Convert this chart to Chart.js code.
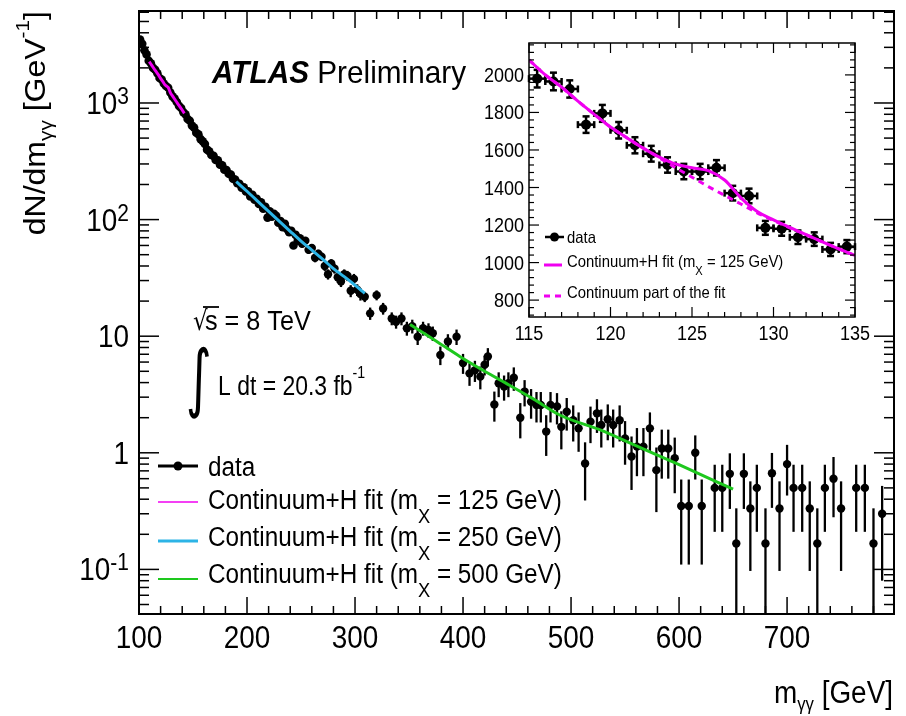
<!DOCTYPE html>
<html>
<head>
<meta charset="utf-8">
<script src="https://cdn.jsdelivr.net/npm/chart.js@4.4.1/dist/chart.umd.min.js"></script>
<style>
  html, body { margin: 0; padding: 0; background: #fff; }
  #wrap { position: relative; width: 906px; height: 716px; }
  canvas { position: absolute; left: 0; top: 0; }
</style>
</head>
<body>
<div id="wrap">
  <canvas id="mainChart" width="906" height="716"></canvas>
  <canvas id="insetChart" width="906" height="716"></canvas>
</div>
<script>
// Fonts and colours
const FONT = '"Liberation Sans", Arial, Helvetica, sans-serif';
const SQUISH = 0.9; // the picture is a little narrower than the fonts
const COLORS = {
    data: '#000000',
    fit125: '#f000f0',
    fit250: '#2cb4e6',
    fit500: '#1ec81e'
};

// Main plot, fine bins (error bars hidden under the markers)
const massDense = [101,103,105,107,109,111,113,115,117,119,121,123,125,127,129,131,133,135,137,139,141,143,145,147,149,151,153,155,157,159,161,163,165,167,169,171,173,175,177,179,181,183,185,187,189,191,193,195,197,199,201,203,205,207,209,211,213,215,217,219,221,223,225,227,229,231,233,235,237,239,241,243,245,247,249];
const valueDense = [3500,3220,2830,2610,2300,2190,2000,1930,1800,1640,1590,1470,1400,1350,1230,1140,1090,1020,945,905,835,800,730,705,640,615,555,540,490,470,445,398,385,358,352,325,322,296,292,268,266,247,243,224,220,205,203,188,189,174,175,158,163,148,151,136,141,124,129,104,118,106,112,108,94,97,86,92,83,78,80,60,74,66,69];

// Main plot, wider bins with visible error bars
const massTail = [251,254,257,260,263,266,269,272,275,278,281,284,287,290,293,296,299,302,305,309,314,320,326,334,338,343,348,353,358,363,368,372,379,386,394,400,406,411,416,420,423,429,433,438,442,447,453,457,463,468,472,477,481,487,491,496,502,507,513,518,524,528,534,539,545,550,556,561,567,573,579,584,590,596,602,609,615,621,633,640,647,653,660,666,672,680,686,693,700,706,714,721,728,735,743,750,764,772,780,788];
const valueTail = [62,66,55,57,47,51,48,40,34,42,38,32,29.5,34,33,24.5,31,25,23,21.8,15.7,22.5,17.3,14.2,13.3,14.2,11.7,12.2,9.9,11.7,11.3,10.6,6.9,9.0,9.9,5.9,4.8,5.1,4.5,5.7,6.7,2.6,3.95,3.7,3.95,4.4,2.0,3.35,2.74,2.57,2.57,1.52,2.57,2.5,1.67,2.25,1.9,1.62,0.81,1.85,2.18,1.73,1.94,1.73,1.9,1.33,0.93,1.13,1.13,1.62,0.71,1.09,1.09,0.9,0.35,0.35,1.0,0.35,0.5,0.5,0.66,0.167,0.66,0.333,0.5,0.167,0.667,0.333,0.8,0.5,0.5,0.333,0.167,0.5,0.6,0.333,0.5,0.5,0.167,0.3];
const errorTail = [4.5,4.7,4.3,4.4,4.0,4.1,4.0,3.7,3.4,3.7,3.6,3.3,3.1,3.4,3.3,2.9,3.2,2.9,2.8,2.2,1.9,2.2,2.0,1.8,1.7,1.8,1.6,1.65,1.5,1.6,1.6,1.5,1.25,1.4,1.5,1.15,1.05,1.05,1.0,1.1,1.2,0.75,0.95,0.9,0.95,1.0,0.67,0.85,0.78,0.75,0.75,0.58,0.75,0.75,0.6,0.7,0.65,0.6,0.42,0.64,0.7,0.62,0.66,0.62,0.65,0.54,0.45,0.5,0.5,0.6,0.4,0.49,0.49,0.45,0.24,0.24,0.41,0.24,0.29,0.29,0.33,0.167,0.33,0.236,0.29,0.167,0.33,0.236,0.37,0.29,0.29,0.236,0.167,0.29,0.32,0.236,0.29,0.29,0.167,0.22];

// Fit curves on the main plot
const fit125Mass = [109.5,112,115,118,120,122,124,125.5,127,128,129,131,134,137,140,142];
const fit125Value = [2260,2090,1900,1740,1625,1530,1435,1395,1360,1300,1225,1150,1045,955,870,815];
const fit250Mass = [190,200,210,220,230,240,250,260,270,280,290,300,309];
const fit250Value = [212,175,143.5,117.5,96.6,79.4,65.5,54.8,45.8,38.0,32.4,27.4,23.3];
const fit500Mass = [351,375,397,420,443,465,490,527,560,600,650];
const fit500Value = [12.6,9.1,6.7,5.0,3.8,2.9,2.1,1.57,1.15,0.79,0.487];

// Inset: 1 GeV bins around 125 GeV
const insetMass = [115.5,116.5,117.5,118.5,119.5,120.5,121.5,122.5,123.5,124.5,125.5,126.5,127.5,128.5,129.5,130.5,131.5,132.5,133.5,134.5];
const insetValue = [1980,1965,1925,1735,1795,1705,1625,1580,1520,1485,1485,1505,1370,1355,1185,1180,1135,1125,1070,1085];
const insetError = [47,47,46,44,45,44,43,42,41,41,41,41,39,39,37,37,36,36,35,35];
const insetFitMass = [115,116,117,118,119,120,121,122,123,124,125,126,127,128,129,130,131,132,133,134,135];
const insetFitValue = [2080,2000,1935,1860,1790,1722,1665,1610,1562,1525,1505,1490,1440,1345,1272,1228,1187,1149,1110,1073,1038];
const insetContValue = [2080,2000,1935,1860,1790,1722,1665,1610,1558,1505,1455,1405,1358,1312,1265,1224,1185,1148,1110,1073,1038];

// Tick labels
const xTicks = [100,200,300,400,500,600,700];
const yTicks = [1000,100,10,1,0.1];
const yTickLabels = [['10','3'],['10','2'],['10',''],['1',''],['10','-1']];
const insetXTicks = [115,120,125,130,135];
const insetYTicks = [800,1000,1200,1400,1600,1800,2000];

function pts(xs, ys) {
    return xs.map((x, i) => ({ x: x, y: ys[i] }));
}

function line(ctx, x1, y1, x2, y2) {
    ctx.beginPath();
    ctx.moveTo(x1, y1);
    ctx.lineTo(x2, y2);
    ctx.stroke();
}

// Text with sub/superscripts, x is squeezed like the original picture
function drawRich(ctx, parts, x, y, opt) {
    const size = opt.size;
    const sx = opt.sx || SQUISH;
    const fontFor = p => {
        const s = (p.sub || p.sup) ? size * (opt.small || 0.7) : size;
        return (p.style || '') + ' ' + s.toFixed(1) + 'px ' + (p.family || FONT);
    };
    let width = 0;
    parts.forEach(p => { ctx.font = fontFor(p); width += ctx.measureText(p.t).width; });
    ctx.save();
    ctx.translate(x, y);
    ctx.scale(sx, 1);
    if (opt.rotate) ctx.rotate(opt.rotate);
    ctx.fillStyle = '#000';
    ctx.textAlign = 'left';
    ctx.textBaseline = 'alphabetic';
    let cx = opt.align === 'right' ? -width : (opt.align === 'center' ? -width / 2 : 0);
    parts.forEach(p => {
        ctx.font = fontFor(p);
        const dy = p.sub ? size * (opt.subDy || 0.3) : (p.sup ? -size * (opt.supDy || 0.45) : 0);
        ctx.fillText(p.t, cx, dy);
        cx += ctx.measureText(p.t).width;
    });
    ctx.restore();
    return width * sx;
}

function dot(ctx, x, y, r) {
    ctx.beginPath();
    ctx.arc(x, y, r, 0, Math.PI * 2);
    ctx.fill();
}

// Error bars, frame, ticks and texts of the main plot
const mainDecor = {
    id: 'mainDecor',
    beforeDatasetsDraw(chart) {
        const { ctx, chartArea: a, scales: { x, y } } = chart;
        ctx.save();
        ctx.beginPath();
        ctx.rect(a.left, a.top, a.right - a.left, a.bottom - a.top);
        ctx.clip();
        ctx.strokeStyle = '#000';
        ctx.lineWidth = 2.3;
        massTail.forEach((m, i) => {
            const v = valueTail[i], e = errorTail[i];
            const px = x.getPixelForValue(m);
            const top = y.getPixelForValue(v + e);
            const bot = v - e > 0.001 ? y.getPixelForValue(v - e) : a.bottom;
            line(ctx, px, top, px, bot);
        });
        ctx.restore();
    },
    afterDraw(chart) {
        const { ctx, chartArea: a, scales: { x, y } } = chart;
        ctx.save();
        ctx.strokeStyle = '#000';
        ctx.fillStyle = '#000';

        // frame
        ctx.lineWidth = 2;
        ctx.strokeRect(a.left, a.top, a.right - a.left, a.bottom - a.top);

        // x ticks (inside, bottom and top)
        ctx.lineWidth = 1.5;
        for (let v = 100; v <= 790; v += 20) {
            const px = x.getPixelForValue(v);
            const len = v % 100 === 0 ? 17 : 8;
            line(ctx, px, a.bottom, px, a.bottom - len);
            line(ctx, px, a.top, px, a.top + len);
        }
        // log y ticks (left and right)
        for (let d = -2; d <= 3; d++) {
            for (let k = 1; k <= 9; k++) {
                const v = k * Math.pow(10, d);
                if (v < y.min || v > y.max) continue;
                const py = y.getPixelForValue(v);
                const len = k === 1 ? 20 : 10;
                line(ctx, a.left, py, a.left + len, py);
                line(ctx, a.right, py, a.right - len, py);
            }
        }

        // tick labels
        xTicks.forEach(v => {
            drawRich(ctx, [{ t: String(v) }], x.getPixelForValue(v), 648, { size: 31, align: 'center' });
        });
        yTicks.forEach((v, i) => {
            const [base, exp] = yTickLabels[i];
            const parts = [{ t: base }];
            if (exp) parts.push({ t: exp, sup: true });
            drawRich(ctx, parts, 129, y.getPixelForValue(v) + 11, { size: 31, align: 'right', small: 0.75, supDy: 0.32 });
        });

        // axis titles
        drawRich(ctx, [{ t: 'm' }, { t: 'γγ', sub: true }, { t: ' [GeV]' }], 893, 703,
            { size: 31, align: 'right', small: 0.6, subDy: 0.22 });
        drawRich(ctx, [{ t: 'dN/dm' }, { t: 'γγ', sub: true }, { t: ' [GeV' }, { t: '-1', sup: true }, { t: ']' }], 45, 11,
            { size: 32, align: 'right', rotate: -Math.PI / 2, small: 0.65, subDy: 0.25, supDy: 0.55 });

        // ATLAS label
        drawRich(ctx, [{ t: 'ATLAS', style: 'italic bold' }, { t: ' Preliminary' }], 212, 83, { size: 32, sx: 0.93 });

        // sqrt(s) and luminosity
        ctx.save();
        ctx.translate(193, 330);
        ctx.scale(0.85, 1);
        ctx.font = '27px "DejaVu Sans"';
        ctx.fillText('√', 0, 0);
        ctx.restore();
        ctx.lineWidth = 1.8;
        line(ctx, 203, 307, 219, 307);
        drawRich(ctx, [{ t: 's = 8 TeV' }], 205, 330, { size: 28 });

        ctx.save();
        ctx.translate(186, 403);
        ctx.scale(0.8, 1.2);
        ctx.font = '62px "DejaVu Sans"';
        ctx.fillText('∫', 0, 0);
        ctx.restore();
        drawRich(ctx, [{ t: 'L dt = 20.3 fb' }, { t: '-1', sup: true }], 218, 395,
            { size: 27, sx: 0.85, small: 0.62, supDy: 0.62 });

        // legend
        const lx1 = 158, lx2 = 198, tx = 208;
        ctx.strokeStyle = COLORS.data;
        ctx.lineWidth = 3;
        line(ctx, lx1, 466, lx2, 466);
        dot(ctx, (lx1 + lx2) / 2, 466, 4.5);
        drawRich(ctx, [{ t: 'data' }], tx, 476, { size: 27 });

        const rows = [
            { color: COLORS.fit125, width: 1.5, ly: 502, ty: 509, m: '125' },
            { color: COLORS.fit250, width: 3, ly: 541, ty: 546, m: '250' },
            { color: COLORS.fit500, width: 2, ly: 579, ty: 583, m: '500' }
        ];
        rows.forEach(r => {
            ctx.strokeStyle = r.color;
            ctx.lineWidth = r.width;
            line(ctx, lx1, r.ly, lx2, r.ly);
            drawRich(ctx, [{ t: 'Continuum+H fit (m' }, { t: 'X', sub: true }, { t: ' = ' + r.m + ' GeV)' }], tx, r.ty,
                { size: 27, small: 0.75, subDy: 0.5 });
        });
        ctx.restore();
    }
};

// Error bars, frame, ticks and legend of the inset
const insetDecor = {
    id: 'insetDecor',
    beforeDraw(chart) {
        const { ctx, chartArea: a } = chart;
        ctx.save();
        ctx.fillStyle = '#fff';
        ctx.fillRect(a.left, a.top, a.right - a.left, a.bottom - a.top);
        ctx.restore();
    },
    beforeDatasetsDraw(chart) {
        const { ctx, scales: { x, y } } = chart;
        ctx.save();
        ctx.strokeStyle = '#000';
        ctx.lineWidth = 2.5;
        insetMass.forEach((m, i) => {
            const px = x.getPixelForValue(m);
            const py = y.getPixelForValue(insetValue[i]);
            const top = y.getPixelForValue(insetValue[i] + insetError[i]);
            const bot = y.getPixelForValue(insetValue[i] - insetError[i]);
            const left = x.getPixelForValue(m - 0.5);
            const right = x.getPixelForValue(m + 0.5);
            line(ctx, px, top, px, bot);
            line(ctx, left, py, right, py);
            line(ctx, px - 3.5, top, px + 3.5, top);
            line(ctx, px - 3.5, bot, px + 3.5, bot);
            line(ctx, left, py - 3.5, left, py + 3.5);
            line(ctx, right, py - 3.5, right, py + 3.5);
        });
        ctx.restore();
    },
    afterDraw(chart) {
        const { ctx, chartArea: a, scales: { x, y } } = chart;
        ctx.save();
        ctx.strokeStyle = '#000';
        ctx.fillStyle = '#000';
        ctx.lineWidth = 1.5;
        ctx.strokeRect(a.left, a.top, a.right - a.left, a.bottom - a.top);

        ctx.lineWidth = 1.2;
        for (let v = 115; v <= 135; v++) {
            const px = x.getPixelForValue(v);
            const len = v % 5 === 0 ? 10 : 5;
            line(ctx, px, a.bottom, px, a.bottom - len);
            line(ctx, px, a.top, px, a.top + len);
        }
        for (let v = 720; v <= 2160; v += 40) {
            const py = y.getPixelForValue(v);
            const len = v % 200 === 0 ? 10 : 5;
            line(ctx, a.left, py, a.left + len, py);
            line(ctx, a.right, py, a.right - len, py);
        }

        insetXTicks.forEach(v => {
            drawRich(ctx, [{ t: String(v) }], x.getPixelForValue(v), 340, { size: 20, align: 'center' });
        });
        insetYTicks.forEach(v => {
            drawRich(ctx, [{ t: String(v) }], 524, y.getPixelForValue(v) + 7, { size: 20, align: 'right' });
        });

        // legend
        ctx.strokeStyle = '#000';
        ctx.lineWidth = 2.5;
        line(ctx, 545, 237, 564, 237);
        dot(ctx, 554.5, 237, 4.5);
        drawRich(ctx, [{ t: 'data' }], 567, 243, { size: 16.5 });

        ctx.strokeStyle = COLORS.fit125;
        ctx.lineWidth = 3;
        line(ctx, 544, 265, 562, 265);
        drawRich(ctx, [{ t: 'Continuum+H fit (m' }, { t: 'X', sub: true }, { t: ' = 125 GeV)' }], 567, 267,
            { size: 16.5, small: 0.75, subDy: 0.5 });

        ctx.setLineDash([6, 5]);
        line(ctx, 544, 296, 562, 296);
        ctx.setLineDash([]);
        drawRich(ctx, [{ t: 'Continuum part of the fit' }], 567, 298, { size: 16.5 });
        ctx.restore();
    }
};

const common = {
    responsive: false,
    animation: false,
    devicePixelRatio: 1,
    plugins: { legend: { display: false }, tooltip: { enabled: false } }
};

// Main spectrum
new Chart(document.getElementById('mainChart'), {
    type: 'scatter',
    data: {
        datasets: [
            { type: 'line', data: pts(fit125Mass, fit125Value), borderColor: COLORS.fit125, borderWidth: 3,
              pointRadius: 0, cubicInterpolationMode: 'monotone', order: 0 },
            { type: 'line', data: pts(fit250Mass, fit250Value), borderColor: COLORS.fit250, borderWidth: 3,
              pointRadius: 0, cubicInterpolationMode: 'monotone', order: 0 },
            { type: 'line', data: pts(fit500Mass, fit500Value), borderColor: COLORS.fit500, borderWidth: 3,
              pointRadius: 0, cubicInterpolationMode: 'monotone', order: 0 },
            { data: pts(massDense, valueDense), pointRadius: 4.3, pointBackgroundColor: COLORS.data,
              pointBorderWidth: 0, order: 1 },
            { data: pts(massTail, valueTail), pointRadius: 4.2, pointBackgroundColor: COLORS.data,
              pointBorderWidth: 0, order: 1 }
        ]
    },
    options: Object.assign({}, common, {
        layout: { padding: { left: 139, right: 12, top: 11, bottom: 102 } },
        scales: {
            x: { type: 'linear', min: 100, max: 799, display: false },
            y: { type: 'logarithmic', min: 0.04145, max: 6150, display: false }
        }
    }),
    plugins: [mainDecor]
});

// Inset around 125 GeV
new Chart(document.getElementById('insetChart'), {
    type: 'scatter',
    data: {
        datasets: [
            { type: 'line', data: pts(insetFitMass, insetFitValue), borderColor: COLORS.fit125, borderWidth: 3,
              pointRadius: 0, cubicInterpolationMode: 'monotone', order: 0 },
            { type: 'line', data: pts(insetFitMass, insetContValue), borderColor: COLORS.fit125, borderWidth: 3,
              borderDash: [6, 5], pointRadius: 0, cubicInterpolationMode: 'monotone', order: 1 },
            { data: pts(insetMass, insetValue), pointRadius: 5, pointBackgroundColor: COLORS.data,
              pointBorderWidth: 0, order: 2 }
        ]
    },
    options: Object.assign({}, common, {
        layout: { padding: { left: 529, right: 51, top: 43, bottom: 399 } },
        scales: {
            x: { type: 'linear', min: 115, max: 135, display: false },
            y: { type: 'linear', min: 710, max: 2170, display: false }
        }
    }),
    plugins: [insetDecor]
});
</script>
</body>
</html>
